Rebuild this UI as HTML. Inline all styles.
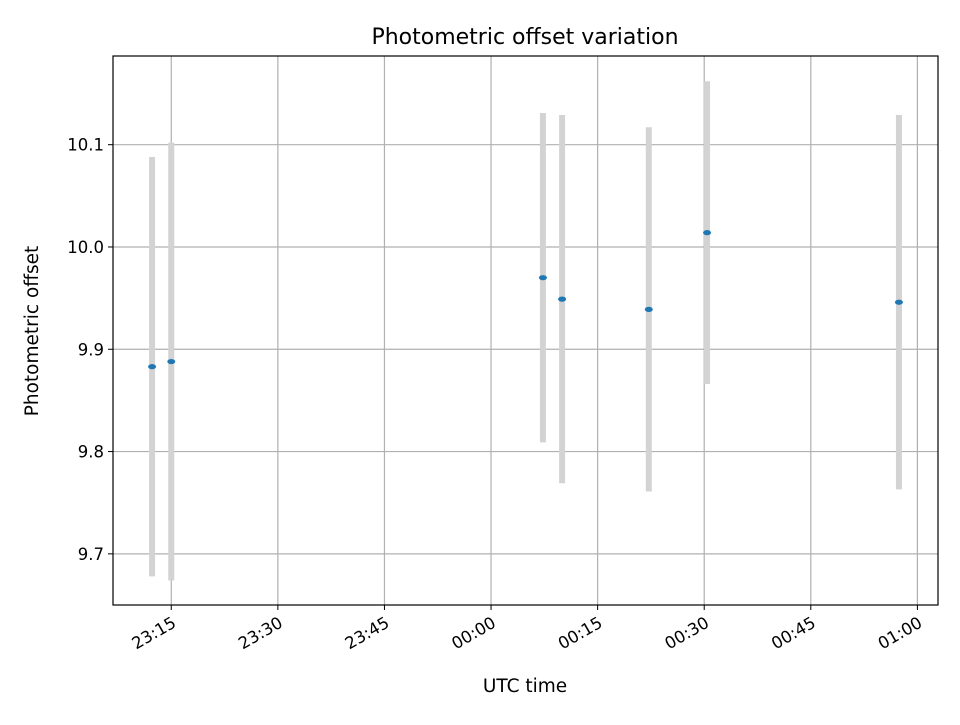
<!DOCTYPE html>
<html><head><meta charset="utf-8"><style>body{margin:0;background:#fff}svg text{font-family:"DejaVu Sans","Liberation Sans",sans-serif}</style></head>
<body>
<svg id="chart" width="960" height="720" xmlns="http://www.w3.org/2000/svg">
<rect width="960" height="720" fill="#fff"/>
<g id="grid"></g>
<g id="marks"></g>
<rect x="113" y="56" width="825" height="549" fill="none" stroke="#000" stroke-width="1.2"/>
<g id="ticks"></g>
<text x="525" y="44" font-size="22" text-anchor="middle">Photometric offset variation</text>
<text x="525" y="692" font-size="18.5" text-anchor="middle">UTC time</text>
<text transform="translate(38,331) rotate(-90)" font-size="18.5" text-anchor="middle">Photometric offset</text>
</svg>
<script>
// times in minutes after 23:00
const times = [12.3, 15.0, 67.3, 70.0, 82.2, 90.4, 117.4];
const offsets = [9.883, 9.888, 9.970, 9.949, 9.939, 10.014, 9.946];
const errors = [0.205, 0.214, 0.161, 0.180, 0.178, 0.148, 0.183];
const xTickMins = [15, 30, 45, 60, 75, 90, 105, 120];
const xTickLabels = ["23:15","23:30","23:45","00:00","00:15","00:30","00:45","01:00"];
const yTicks = [9.7, 9.8, 9.9, 10.0, 10.1];
const yTickLabels = ["9.7","9.8","9.9","10.0","10.1"];

const L=113,R=938,T=56,B=605;
const xMin=6.8,xMax=122.9,yMin=9.650,yMax=10.1867;
const xs=m=>L+(m-xMin)/(xMax-xMin)*(R-L);
const ys=v=>B-(v-yMin)/(yMax-yMin)*(B-T);
const NS="http://www.w3.org/2000/svg";
function mk(tag,parent,attrs){const e=document.createElementNS(NS,tag);for(const k in attrs)e.setAttribute(k,attrs[k]);document.getElementById(parent).appendChild(e);return e;}

xTickMins.forEach((m,i)=>{
  const x=xs(m);
  const g=mk('line','grid',{x1:x,x2:x,y1:T,y2:B,stroke:'#b0b0b0','stroke-width':1.2});
  
  
  const t=mk('line','ticks',{x1:x,x2:x,y1:B,y2:B+5,stroke:'#000'});
  
  
  const ax=x+6, ay=B+21;
  const lb=mk('text','ticks',{x:ax,y:ay,'font-size':16.5,'text-anchor':'end',transform:`rotate(-30 ${ax} ${ay})`});
  lb.textContent=xTickLabels[i];
  
  
});
yTicks.forEach((v,i)=>{
  const y=ys(v);
  const g=mk('line','grid',{x1:L,x2:R,y1:y,y2:y,stroke:'#b0b0b0','stroke-width':1.2});
  
  
  const t=mk('line','ticks',{x1:L-5,x2:L,y1:y,y2:y,stroke:'#000'});
  
  
  const lb=mk('text','ticks',{x:L-9,y:y+6,'font-size':16.5,'text-anchor':'end'});
  lb.textContent=yTickLabels[i];
  
  
});
times.forEach((m,i)=>{
  const x=xs(m);
  const e=mk('line','marks',{x1:x,x2:x,y1:ys(offsets[i]+errors[i]),y2:ys(offsets[i]-errors[i]),stroke:'#d3d3d3','stroke-width':6});
  
  
});
times.forEach((m,i)=>{
  const p=mk('ellipse','marks',{cx:xs(m),cy:ys(offsets[i]),rx:4,ry:2.6,fill:'#1f77b4'});
  
  
});
</script>
</body></html>
